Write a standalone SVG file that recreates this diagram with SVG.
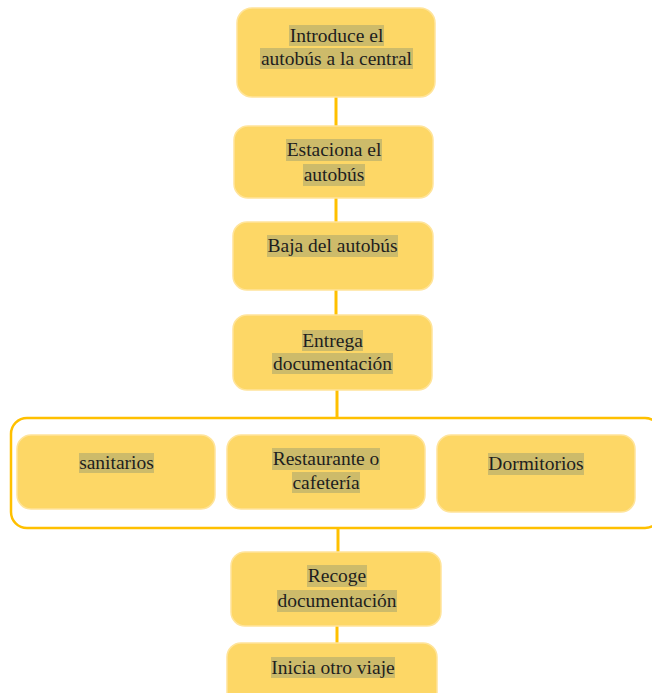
<svg xmlns="http://www.w3.org/2000/svg" width="652" height="693" viewBox="0 0 652 693">
<style>
.box{fill:#FDD766;stroke:#FFE49A;stroke-width:1.5}
.hl{fill:#CDBB6A}
.t{font-family:"Liberation Serif","Times New Roman",serif;font-size:19.5px;fill:#1E1E1E;text-anchor:middle}
.c{stroke:#FFC000;stroke-width:3;fill:none}
</style>
<rect width="652" height="693" fill="#FFFFFF"/>
<g id="connectors">
<line class="c" x1="336" y1="97" x2="336" y2="126"/>
<line class="c" x1="336" y1="198" x2="336" y2="222"/>
<line class="c" x1="336" y1="290" x2="336" y2="315"/>
<line class="c" x1="337" y1="390" x2="337" y2="418"/>
<line class="c" x1="338" y1="528" x2="338" y2="552"/>
<line class="c" x1="337" y1="626" x2="337" y2="643"/>
</g>
<g id="group-container">
<rect x="11" y="418" width="650" height="110" rx="16" fill="none" stroke="#FFC000" stroke-width="2.5"/>
</g>
<g id="n1">
<rect class="box" x="237" y="8" width="198" height="89" rx="15"/>
<rect class="hl" x="289" y="25" width="95" height="21"/>
<rect class="hl" x="260" y="48" width="153" height="21"/>
<text class="t" x="336.5" y="41.5">Introduce el</text>
<text class="t" x="336.5" y="64.5">autobús a la central</text>
</g>
<g id="n2">
<rect class="box" x="234" y="126" width="199" height="72" rx="14"/>
<rect class="hl" x="286" y="139" width="96" height="22"/>
<rect class="hl" x="303" y="164" width="62" height="22"/>
<text class="t" x="334" y="156">Estaciona el</text>
<text class="t" x="334" y="181">autobús</text>
</g>
<g id="n3">
<rect class="box" x="233" y="222" width="200" height="68" rx="14"/>
<rect class="hl" x="267" y="235" width="131" height="22"/>
<text class="t" x="332.5" y="252">Baja del autobús</text>
</g>
<g id="n4">
<rect class="box" x="233" y="315" width="199" height="75" rx="14"/>
<rect class="hl" x="302" y="330" width="61" height="21"/>
<rect class="hl" x="272" y="353" width="121" height="21"/>
<text class="t" x="332.5" y="346.5">Entrega</text>
<text class="t" x="332.5" y="369.5">documentación</text>
</g>
<g id="n5">
<rect class="box" x="17" y="435" width="198" height="74" rx="14"/>
<rect class="hl" x="79" y="453" width="75" height="20"/>
<text class="t" x="116.5" y="469">sanitarios</text>
</g>
<g id="n6">
<rect class="box" x="227" y="435" width="198" height="74" rx="14"/>
<rect class="hl" x="272" y="448" width="108" height="22"/>
<rect class="hl" x="292" y="472" width="68" height="21"/>
<text class="t" x="326" y="465">Restaurante o</text>
<text class="t" x="326" y="488.5">cafetería</text>
</g>
<g id="n7">
<rect class="box" x="437" y="435" width="198" height="77" rx="14"/>
<rect class="hl" x="488" y="453" width="96" height="22"/>
<text class="t" x="536" y="470">Dormitorios</text>
</g>
<g id="n8">
<rect class="box" x="231" y="552" width="210" height="74" rx="14"/>
<rect class="hl" x="307" y="565" width="60" height="22"/>
<rect class="hl" x="277" y="590" width="120" height="22"/>
<text class="t" x="337" y="582">Recoge</text>
<text class="t" x="337" y="607">documentación</text>
</g>
<g id="n9">
<rect class="box" x="227" y="643" width="210" height="70" rx="14"/>
<rect class="hl" x="271" y="657" width="124" height="21"/>
<text class="t" x="333" y="673.5">Inicia otro viaje</text>
</g>
</svg>
